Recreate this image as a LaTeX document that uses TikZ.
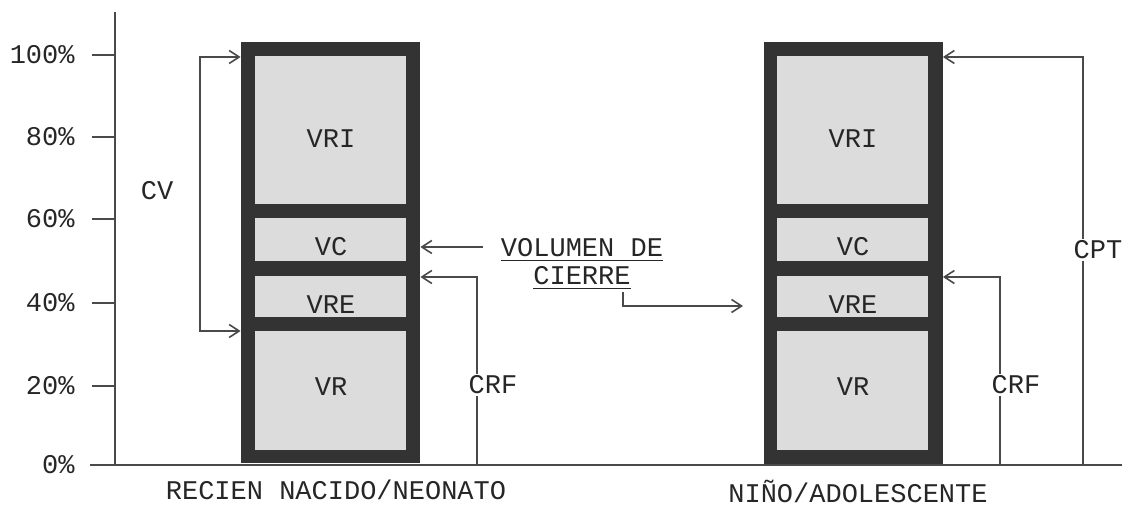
\documentclass[tikz,border=0pt]{standalone}
\usepackage{fontspec}
\setmainfont{Liberation Mono}
\usetikzlibrary{positioning, arrows.meta, calc}

\definecolor{barcol}{HTML}{333333}
\definecolor{cellcol}{HTML}{DCDCDC}
\definecolor{linecol}{HTML}{4A4A4A}

\tikzset{
  conn/.style={draw=linecol, line width=0.8pt},
  tip/.style={-{Straight Barb[length=5pt,width=6.5pt]}},
  bar/.style={fill=barcol, minimum width=89.5pt, minimum height=210.5pt, inner sep=0pt},
  lbl/.style={font=\fontsize{13.5}{14}\selectfont, inner sep=1pt, text=black!85},
}

\begin{document}
\begin{tikzpicture}[x=0.5pt, y=-0.5pt]
\useasboundingbox (0,0) rectangle (1129,507);

% axis and ticks
\draw[conn] (115,12) -- (115,465);
\draw[conn] (90,465) -- (1122,465);
\foreach \v/\y in {100/55, 80/137, 60/219, 40/303, 20/386}{
  \node[lbl, anchor=east] (p\v) at (77,\y) {\v\%};
  \draw[conn] (92,\y) -- (115,\y);
}
\node[lbl, anchor=east] (p0) at (77,465) {0\%};

% the two bars
\node[bar] (bar1) at (330.5,252.5) {};
\node[bar] (bar2) at (853,253) {};
\foreach \dx in {0,522}{
  \fill[cellcol] (255+\dx,56) rectangle (406+\dx,204);
  \fill[cellcol] (255+\dx,218) rectangle (406+\dx,261);
  \fill[cellcol] (255+\dx,276) rectangle (406+\dx,317);
  \fill[cellcol] (255+\dx,331) rectangle (406+\dx,450);
}
\foreach \b/\cx in {1/331, 2/853}{
  \node[lbl] (vri\b) at (\cx,139) {VRI};
  \node[lbl] (vc\b) at (\cx,247) {VC};
  \node[lbl] (vre\b) at (\cx,305) {VRE};
  \node[lbl] (vr\b) at (\cx,387) {VR};
}

% capacidad vital
\node[lbl] (cv) at (157,191) {CV};
\coordinate (cvx) at (200,194);
\draw[conn, {Straight Barb[length=5pt,width=6.5pt]}-{Straight Barb[length=5pt,width=6.5pt]}]
  (bar1.west |- 0,57) -| (cvx) |- (bar1.west |- 0,331);

% volumen de cierre
\node[lbl, align=center] (vdc) at (582,264) {\underline{VOLUMEN DE}\\\underline{CIERRE}};
\coordinate (vcsrc) at (483,247);
\coordinate (vdcend) at (743,306);
\draw[conn, tip] (vcsrc) -- (vcsrc -| bar1.east);
\draw[conn, tip] ($(vdc.south)+(41,0)$) |- (vdcend);

% CRF and CPT
\coordinate (crf1) at (477,465);
\coordinate (crf2) at (1000,465);
\coordinate (cpt) at (1083,465);
\draw[conn, tip] (crf1) |- (bar1.east |- 0,277);
\draw[conn, tip] (crf2) |- (bar2.east |- 0,277);
\draw[conn, tip] (cpt) |- (bar2.east |- 0,57);
\node[lbl, fill=white] (crf1lbl) at (493,385) {CRF};
\node[lbl, fill=white] (crf2lbl) at (1016,385) {CRF};
\node[lbl, fill=white] (cptlbl) at (1098,250) {CPT};

% groups
\node[lbl] (rn) at (336,490) {RECIEN NACIDO/NEONATO};
\node[lbl] (na) at (858,491) {NIÑO/ADOLESCENTE};
\end{tikzpicture}
\end{document}
